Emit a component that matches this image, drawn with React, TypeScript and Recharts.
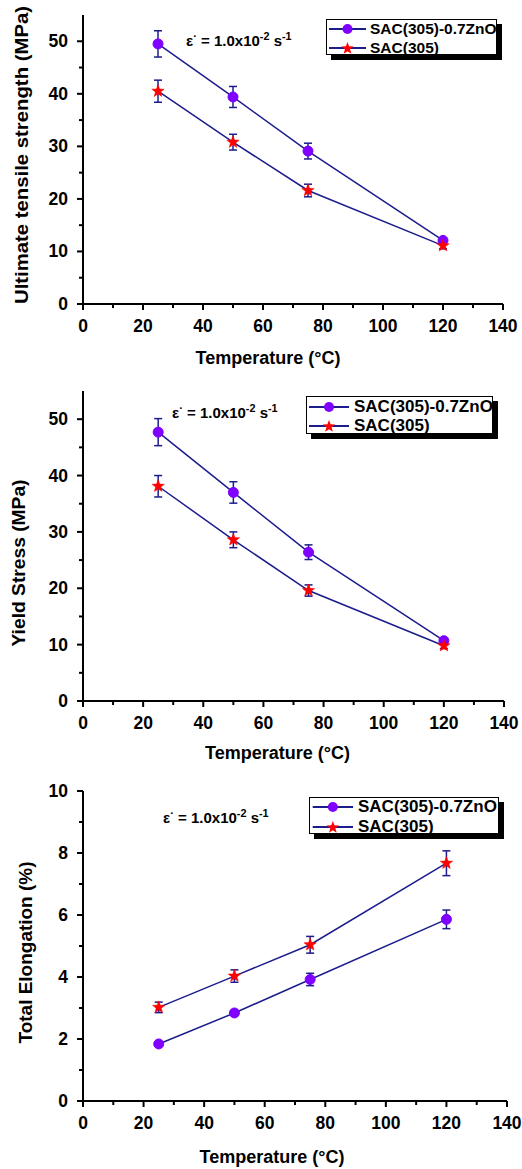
import React from 'react';
import { LineChart, Line, XAxis, YAxis, ErrorBar, Legend } from 'recharts';

// ---------- data ----------
const temperatures = [25, 50, 75, 120];
const seriesNames = ['SAC(305)-0.7ZnO', 'SAC(305)'];

const utsZnO = [49.5, 39.4, 29.1, 12.1];
const utsZnOErr = [2.5, 2.0, 1.5, 0.5];
const utsSAC = [40.5, 30.8, 21.6, 11.1];
const utsSACErr = [2.1, 1.5, 1.2, 0.6];

const ysZnO = [47.7, 37.0, 26.4, 10.7];
const ysZnOErr = [2.4, 1.9, 1.3, 0.4];
const ysSAC = [38.1, 28.6, 19.6, 9.8];
const ysSACErr = [1.9, 1.4, 1.0, 0.5];

const elZnO = [1.84, 2.84, 3.92, 5.86];
const elZnOErr = [0.05, 0.08, 0.2, 0.3];
const elSAC = [3.02, 4.03, 5.04, 7.67];
const elSACErr = [0.17, 0.2, 0.27, 0.4];

const xTicks = [0, 10, 20, 30, 40, 50, 60, 70, 80, 90, 100, 110, 120, 130, 140];
const strengthTicks = [0, 5, 10, 15, 20, 25, 30, 35, 40, 45, 50];
const elongTicks = [0, 1, 2, 3, 4, 5, 6, 7, 8, 9, 10];

const xTitle = 'Temperature (°C)';
const yTitles = ['Ultimate tensile strength (MPa)', 'Yield Stress (MPa)', 'Total Elongation (%)'];

// ---------- styles ----------
const FONT = '"Liberation Sans", Arial, sans-serif';
const NAVY = '#1c1c8c';
const PURPLE = '#7f00ff';
const RED = '#ff0000';
const TICK_FS = 17.5;

const buildRows = (zno: number[], znoErr: number[], sac: number[], sacErr: number[]) =>
  temperatures.map((t, i) => ({ t, zno: zno[i], znoErr: znoErr[i], sac: sac[i], sacErr: sacErr[i] }));

const starPoints = (cx: number, cy: number, ro: number, ri: number) => {
  const pts: string[] = [];
  for (let i = 0; i < 10; i++) {
    const r = i % 2 === 0 ? ro : ri;
    const a = ((-90 + i * 36) * Math.PI) / 180;
    pts.push(`${cx + r * Math.cos(a)},${cy + r * Math.sin(a)}`);
  }
  return pts.join(' ');
};

const renderStar = (p: any) => {
  if (p.cx == null || p.cy == null) return <g key={`s-${p.index}`} />;
  return <polygon key={`s-${p.index}`} points={starPoints(p.cx, p.cy, 6.5, 2.7)} fill={RED} stroke={RED} strokeWidth={0.5} />;
};

type Side = 'bottom' | 'left' | 'top' | 'right';
const makeTick = (side: Side, isMajor: (v: number) => boolean, showLabel: boolean, fs: number) => (props: any) => {
  const { x, y, payload } = props;
  const v = payload.value;
  const major = isMajor(v);
  const outer = side === 'bottom' || side === 'left';
  const len = outer ? (major ? 6 : 4) : major ? 3 : 2;
  let ln: any = null;
  let lb: any = null;
  if (side === 'bottom') {
    ln = <line x1={x} y1={y} x2={x} y2={y + len} stroke="#000" strokeWidth={2} />;
    if (showLabel && major)
      lb = (
        <text x={x} y={y + 27.5} textAnchor="middle" fontSize={fs} fontWeight="bold" fontFamily={FONT} fill="#000">
          {v}
        </text>
      );
  } else if (side === 'left') {
    ln = <line x1={x} y1={y} x2={x - len} y2={y} stroke="#000" strokeWidth={2} />;
    if (showLabel && major)
      lb = (
        <text x={x - 15} y={y + 6} textAnchor="end" fontSize={fs} fontWeight="bold" fontFamily={FONT} fill="#000">
          {v}
        </text>
      );
  } else if (side === 'top') {
    ln = <line x1={x} y1={y} x2={x} y2={y - len} stroke="#000" strokeWidth={1.5} />;
  } else {
    ln = <line x1={x} y1={y} x2={x + len} y2={y} stroke="#000" strokeWidth={1.5} />;
  }
  return (
    <g>
      {ln}
      {lb}
    </g>
  );
};

const Rate = ({ x, y, fs }: { x: number; y: number; fs: number }) => (
  <text x={x} y={y} fontSize={fs} fontWeight="bold" fontFamily={FONT} fill="#000">
    ε
    <tspan dy={-6} fontSize={fs * 0.75}>·</tspan>
    <tspan dy={6}> = 1.0x10</tspan>
    <tspan dy={-6} fontSize={fs * 0.72}>-2</tspan>
    <tspan dy={6}> s</tspan>
    <tspan dy={-6} fontSize={fs * 0.72}>-1</tspan>
  </text>
);

const makeLegend = (fs: number, rowCenters: number[], lineX: [number, number], textX: number) => () => (
  <div
    style={{
      position: 'relative',
      width: '100%',
      height: '100%',
      boxSizing: 'border-box',
      border: '1px solid #000',
      background: '#fff',
      boxShadow: '5px 5px 0 #000',
      fontFamily: FONT,
    }}
  >
    {seriesNames.map((name, i) => (
      <div key={name} style={{ position: 'absolute', left: 0, top: rowCenters[i] - 10, height: 20, width: '100%' }}>
        <svg width={lineX[1] + 2} height={20} style={{ position: 'absolute', left: 0, top: 0 }}>
          <line x1={lineX[0]} y1={10} x2={lineX[1]} y2={10} stroke={NAVY} strokeWidth={2} />
          {i === 0 ? (
            <circle cx={(lineX[0] + lineX[1]) / 2} cy={10} r={5} fill={PURPLE} />
          ) : (
            <polygon points={starPoints((lineX[0] + lineX[1]) / 2, 10.5, 6.5, 2.7)} fill={RED} />
          )}
        </svg>
        <span
          style={{
            position: 'absolute',
            left: textX,
            top: 0,
            lineHeight: '20px',
            fontSize: fs,
            fontWeight: 'bold',
            whiteSpace: 'nowrap',
            color: '#000',
          }}
        >
          {name}
        </span>
      </div>
    ))}
  </div>
);

type PanelProps = {
  top: number;
  height: number;
  plotTop: number;
  plotBottom: number;
  plotLeft: number;
  plotRight: number;
  rows: any[];
  yDomain: [number, number];
  yTicks: number[];
  yMajor: (v: number) => boolean;
  yTitle: string;
  yTitlePos: [number, number];
  yTitleLen: number;
  xTitlePos: [number, number];
  ratePos: [number, number];
  legendBox: { left: number; top: number; width: number; height: number };
  legendFs: number;
  legendRows: number[];
  legendLine: [number, number];
  legendText: number;
};

const Panel = (p: PanelProps) => {
  const xMajor = (v: number) => v % 20 === 0;
  return (
    <div style={{ position: 'absolute', left: 0, top: p.top }}>
      <LineChart
        width={522}
        height={p.height}
        data={p.rows}
        margin={{ top: p.plotTop, right: 522 - p.plotRight, bottom: 0, left: 0 }}
      >
        <XAxis
          dataKey="t"
          type="number"
          domain={[0, 140]}
          ticks={xTicks}
          interval={0}
          height={p.height - p.plotBottom}
          axisLine={{ stroke: '#000', strokeWidth: 2 }}
          tickLine={false}
          tickSize={0}
          tickMargin={0}
          tick={makeTick('bottom', xMajor, true, TICK_FS)}
        />
        <XAxis
          xAxisId="top"
          orientation="top"
          dataKey="t"
          type="number"
          domain={[0, 140]}
          ticks={xTicks}
          interval={0}
          height={0}
          axisLine={{ stroke: '#000', strokeWidth: 2 }}
          tickLine={false}
          tickSize={0}
          tickMargin={0}
          tick={makeTick('top', xMajor, false, TICK_FS)}
        />
        <YAxis
          type="number"
          domain={p.yDomain}
          ticks={p.yTicks}
          interval={0}
          width={p.plotLeft}
          axisLine={{ stroke: '#000', strokeWidth: 2 }}
          tickLine={false}
          tickSize={0}
          tickMargin={0}
          tick={makeTick('left', p.yMajor, true, TICK_FS)}
        />
        <YAxis
          yAxisId="right"
          orientation="right"
          type="number"
          domain={p.yDomain}
          ticks={p.yTicks}
          interval={0}
          width={0}
          axisLine={{ stroke: '#000', strokeWidth: 2 }}
          tickLine={false}
          tickSize={0}
          tickMargin={0}
          tick={makeTick('right', p.yMajor, false, TICK_FS)}
        />
        <Line
          dataKey="zno"
          name={seriesNames[0]}
          stroke={NAVY}
          strokeWidth={1.5}
          dot={{ r: 5, fill: PURPLE, stroke: PURPLE, strokeWidth: 1 }}
          activeDot={false}
          isAnimationActive={false}
        >
          <ErrorBar dataKey="znoErr" direction="y" width={4} stroke={NAVY} strokeWidth={1.5} />
        </Line>
        <Line
          dataKey="sac"
          name={seriesNames[1]}
          stroke={NAVY}
          strokeWidth={1.5}
          dot={renderStar}
          activeDot={false}
          isAnimationActive={false}
        >
          <ErrorBar dataKey="sacErr" direction="y" width={4} stroke={NAVY} strokeWidth={1.5} />
        </Line>
        <Legend
          layout="horizontal"
          verticalAlign="middle"
          align="center"
          content={makeLegend(p.legendFs, p.legendRows, p.legendLine, p.legendText)}
          wrapperStyle={{
            left: p.legendBox.left,
            top: p.legendBox.top,
            width: p.legendBox.width,
            height: p.legendBox.height,
            margin: 0,
            padding: 0,
          }}
        />
        <text
          x={p.yTitlePos[0]}
          y={p.yTitlePos[1]}
          transform={`rotate(-90, ${p.yTitlePos[0]}, ${p.yTitlePos[1]})`}
          textAnchor="middle"
          dominantBaseline="central"
          fontSize={19}
          fontWeight="bold"
          fontFamily={FONT}
          fill="#000"
          textLength={p.yTitleLen}
          lengthAdjust="spacingAndGlyphs"
        >
          {p.yTitle}
        </text>
        <text
          x={p.xTitlePos[0]}
          y={p.xTitlePos[1]}
          textAnchor="middle"
          dominantBaseline="central"
          fontSize={17.5}
          fontWeight="bold"
          fontFamily={FONT}
          fill="#000"
          textLength={145}
          lengthAdjust="spacingAndGlyphs"
        >
          {xTitle}
        </text>
        <Rate x={p.ratePos[0]} y={p.ratePos[1]} fs={15} />
      </LineChart>
    </div>
  );
};

export default function App() {
  const utsRows = buildRows(utsZnO, utsZnOErr, utsSAC, utsSACErr);
  const ysRows = buildRows(ysZnO, ysZnOErr, ysSAC, ysSACErr);
  const elRows = buildRows(elZnO, elZnOErr, elSAC, elSACErr);
  return (
    <div style={{ position: 'absolute', left: 0, top: 0, width: 522, height: 1169, background: '#fff', overflow: 'hidden' }}>
      <Panel
        top={0}
        height={380}
        plotTop={15}
        plotBottom={304}
        plotLeft={83}
        plotRight={503}
        rows={utsRows}
        yDomain={[0, 55]}
        yTicks={strengthTicks}
        yMajor={(v) => v % 10 === 0}
        yTitle={yTitles[0]}
        yTitlePos={[21, 155]}
        yTitleLen={298}
        xTitlePos={[268, 358]}
        ratePos={[186, 46]}
        legendBox={{ left: 326, top: 19, width: 171, height: 36 }}
        legendFs={15.5}
        legendRows={[9.3, 27.7]}
        legendLine={[2, 39]}
        legendText={43}
      />
      <Panel
        top={380}
        height={390}
        plotTop={11}
        plotBottom={321}
        plotLeft={83}
        plotRight={504}
        rows={ysRows}
        yDomain={[0, 55]}
        yTicks={strengthTicks}
        yMajor={(v) => v % 10 === 0}
        yTitle={yTitles[1]}
        yTitlePos={[18.5, 183]}
        yTitleLen={167}
        xTitlePos={[277.5, 373]}
        ratePos={[172, 38]}
        legendBox={{ left: 306, top: 15.7, width: 187, height: 38 }}
        legendFs={17}
        legendRows={[10, 29.3]}
        legendLine={[2, 42]}
        legendText={47}
      />
      <Panel
        top={770}
        height={399}
        plotTop={21}
        plotBottom={331}
        plotLeft={83}
        plotRight={507}
        rows={elRows}
        yDomain={[0, 10]}
        yTicks={elongTicks}
        yMajor={(v) => v % 2 === 0}
        yTitle={yTitles[2]}
        yTitlePos={[25, 182.5]}
        yTitleLen={182}
        xTitlePos={[272, 387]}
        ratePos={[163, 53]}
        legendBox={{ left: 309, top: 26.7, width: 190, height: 37.6 }}
        legendFs={17}
        legendRows={[9, 29.3]}
        legendLine={[2.7, 43]}
        legendText={48}
      />
    </div>
  );
}
